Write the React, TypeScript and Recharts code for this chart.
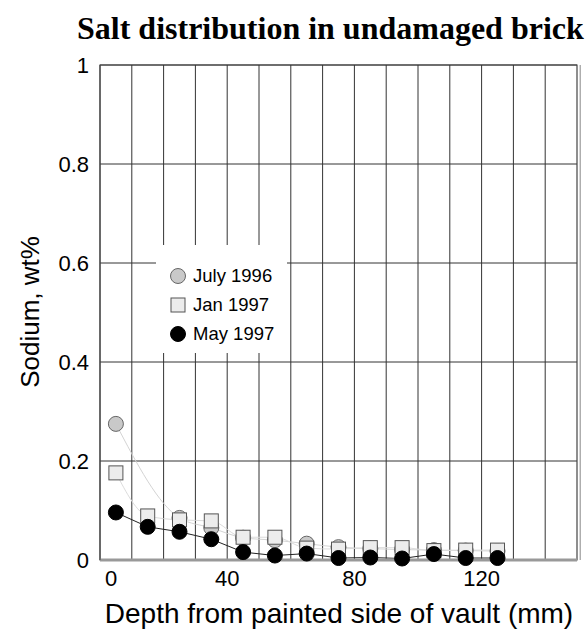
import React from 'react';
import {
  LineChart,
  Line,
  XAxis,
  YAxis,
  CartesianGrid,
  ReferenceLine,
  ReferenceArea,
  Legend,
  Label,
} from 'recharts';

const depths = [5, 15, 25, 35, 45, 55, 65, 75, 85, 95, 105, 115, 125];
const july1996 = [0.275, null, 0.085, 0.065, 0.045, 0.04, 0.033, 0.026, 0.023, 0.021, 0.02, 0.019, 0.018];
const jan1997 = [0.176, 0.089, 0.081, 0.079, 0.046, 0.046, 0.024, 0.022, 0.025, 0.025, 0.019, 0.02, 0.02];
const may1997 = [0.096, 0.067, 0.057, 0.042, 0.016, 0.009, 0.013, 0.004, 0.005, 0.003, 0.012, 0.004, 0.004];
const seriesNames = ['July 1996', 'Jan 1997', 'May 1997'];
const xTicks = [0, 40, 80, 120];
const yTicks = [0, 0.2, 0.4, 0.6, 0.8, 1];
const gridX = [10, 20, 30, 40, 50, 60, 70, 80, 90, 100, 110, 120, 130, 140];

const rows = depths.map((d, i) => ({
  depth: d,
  july: july1996[i],
  jan: jan1997[i],
  may: may1997[i],
}));

const FONT = '"Liberation Sans", Arial, sans-serif';

const CircleDot = (fill: string, stroke: string) => (props: any) => {
  const { cx, cy, index } = props;
  if (cx == null || cy == null) return <g key={`e-${fill}-${index}`} />;
  return <circle key={`c-${fill}-${index}`} cx={cx} cy={cy} r={7.5} fill={fill} stroke={stroke} strokeWidth={1} />;
};

const SquareDot = (props: any) => {
  const { cx, cy, index } = props;
  if (cx == null || cy == null) return <g key={`se-${index}`} />;
  return (
    <rect key={`s-${index}`} x={cx - 7} y={cy - 7} width={14} height={14} fill="#ececec" stroke="#555" strokeWidth={1} />
  );
};

const XTick = (props: any) => {
  const { x, y, payload } = props;
  const shift = payload.value === 0 ? 11 : 0;
  return (
    <text x={x + shift} y={y} dy="0.71em" textAnchor="middle" fontFamily={FONT} fontSize={22} fill="#000">
      {payload.value}
    </text>
  );
};

const LegendBox = () => {
  const markers = [
    <circle cx={9} cy={9} r={7.5} fill="#c9c9c9" stroke="#666" strokeWidth={1} />,
    <rect x={2} y={2} width={14} height={14} fill="#ececec" stroke="#555" strokeWidth={1} />,
    <circle cx={9} cy={9} r={7.5} fill="#000" stroke="#000" strokeWidth={1} />,
  ];
  return (
    <div style={{ paddingTop: 16, paddingLeft: 13 }}>
      {seriesNames.map((n, i) => (
        <div key={n} style={{ display: 'flex', alignItems: 'center', height: 29 }}>
          <svg width={18} height={18} style={{ marginRight: 6 }}>
            {markers[i]}
          </svg>
          <span style={{ fontFamily: FONT, fontSize: 18.5, color: '#000' }}>{n}</span>
        </div>
      ))}
    </div>
  );
};

export default function App() {
  return (
    <div style={{ position: 'absolute', left: 0, top: 0, width: 585, height: 635, background: '#fff' }}>
      <div
        style={{
          position: 'absolute',
          left: 77,
          top: 12,
          fontFamily: '"Liberation Serif", "Times New Roman", serif',
          fontWeight: 'bold',
          fontSize: 32,
          lineHeight: '32px',
          whiteSpace: 'nowrap',
          color: '#000',
          zIndex: 2,
        }}
      >
        Salt distribution in undamaged brick
      </div>
      <LineChart width={585} height={635} data={rows} margin={{ top: 65, right: 8, bottom: 0, left: 0 }}>
        <CartesianGrid vertical={false} stroke="#333" strokeDasharray="" />
        {gridX.map((g) => (
          <ReferenceLine key={g} x={g} stroke="#333" strokeWidth={1} />
        ))}
        <ReferenceLine x={151} stroke="#888" strokeWidth={1} ifOverflow="visible" />
        <ReferenceArea x1={0} x2={150} y1={0} y2={1} fill="none" stroke="#444" strokeWidth={1.2} />
        <XAxis
          dataKey="depth"
          type="number"
          domain={[0, 150]}
          ticks={xTicks}
          tick={<XTick />}
          tickLine={false}
          tickSize={0}
          tickMargin={10}
          height={75}
          axisLine={{ stroke: '#999', strokeWidth: 3 }}
        >
          <Label
            content={() => (
              <text x={339} y={623} textAnchor="middle" fontFamily={FONT} fontSize={28} fill="#000">
                Depth from painted side of vault (mm)
              </text>
            )}
          />
        </XAxis>
        <YAxis
          type="number"
          domain={[0, 1]}
          ticks={yTicks}
          width={100}
          tickLine={false}
          tickSize={0}
          tickMargin={11}
          axisLine={{ stroke: '#444' }}
          tick={{ fontFamily: FONT, fontSize: 22, fill: '#000' }}
        >
          <Label
            content={() => (
              <text
                x={30}
                y={312}
                transform="rotate(-90, 30, 312)"
                textAnchor="middle"
                dominantBaseline="central"
                fontFamily={FONT}
                fontSize={26}
                fill="#000"
              >
                Sodium, wt%
              </text>
            )}
          />
        </YAxis>
        <Legend
          layout="vertical"
          align="center"
          verticalAlign="middle"
          content={<LegendBox />}
          wrapperStyle={{
            position: 'absolute',
            left: 156,
            top: 245,
            width: 131,
            height: 108,
            background: '#fff',
            margin: 0,
          }}
        />
        <Line
          dataKey="july"
          name={seriesNames[0]}
          type="monotone"
          stroke="#d4d4d4"
          strokeWidth={1}
          connectNulls
          dot={CircleDot('#c9c9c9', '#666')}
          isAnimationActive={false}
        />
        <Line
          dataKey="jan"
          name={seriesNames[1]}
          type="monotone"
          stroke="#dcdcdc"
          strokeWidth={1}
          dot={SquareDot}
          isAnimationActive={false}
        />
        <Line
          dataKey="may"
          name={seriesNames[2]}
          type="linear"
          stroke="#222"
          strokeWidth={1}
          dot={CircleDot('#000', '#000')}
          isAnimationActive={false}
        />
      </LineChart>
    </div>
  );
}
